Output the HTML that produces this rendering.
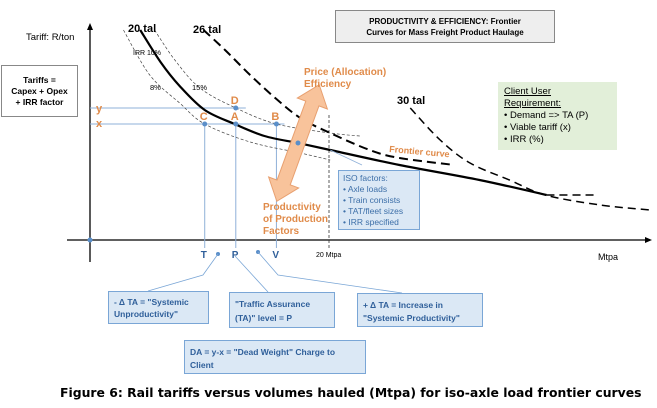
<!DOCTYPE html>
<html><head><meta charset="utf-8"><style>
body{margin:0;width:657px;height:408px;background:#fff;overflow:hidden;font-family:"Liberation Sans",sans-serif}
.box{position:absolute;box-sizing:border-box;font-size:9px;line-height:12px}
</style></head><body>
<svg id="c" width="657" height="408" style="position:absolute;left:0;top:0"></svg>
<div class="box" style="left:1px;top:65px;width:77px;height:52px;border:1px solid #888;font-weight:bold;text-align:center;padding-top:9px;font-size:8.5px;line-height:11px">Tariffs =<br>Capex + Opex<br>+ IRR factor</div>
<div class="box" style="left:335px;top:10px;width:220px;height:33px;border:1px solid #888;background:#eee;font-weight:bold;text-align:center;padding-top:5px;font-size:8px;line-height:11px">PRODUCTIVITY &amp; EFFICIENCY: Frontier<br>Curves for Mass Freight Product Haulage</div>
<div class="box" style="left:498px;top:82px;width:119px;height:68px;background:#e2efd9;padding:4px 6px;font-size:9.5px;line-height:12px"><u>Client User<br>Requirement:</u><br>• Demand =&gt; TA (P)<br>• Viable tariff (x)<br>• IRR (%)</div>
<div class="box" style="left:338px;top:170px;width:82px;height:60px;background:#dbe8f5;border:1px solid #7aa6d6;color:#3d6fa8;padding:2px 4px;font-size:8.5px;line-height:11px">ISO factors:<br>• Axle loads<br>• Train consists<br>• TAT/fleet sizes<br>• IRR specified</div>
<div class="box" style="left:108px;top:291px;width:101px;height:33px;background:#dbe8f5;border:1px solid #7aa6d6;color:#2f5f9a;font-weight:bold;padding:4px 5px;font-size:8.5px">- Δ TA = "Systemic<br>Unproductivity"</div>
<div class="box" style="left:229px;top:292px;width:106px;height:36px;background:#dbe8f5;border:1px solid #7aa6d6;color:#2f5f9a;font-weight:bold;padding:4px 5px;font-size:8.5px;line-height:14px">"Traffic Assurance<br>(TA)" level = P</div>
<div class="box" style="left:357px;top:293px;width:126px;height:34px;background:#dbe8f5;border:1px solid #7aa6d6;color:#2f5f9a;font-weight:bold;padding:5px 5px;font-size:8.5px;line-height:13px">+ Δ TA = Increase in<br>"Systemic Productivity"</div>
<div class="box" style="left:184px;top:340px;width:182px;height:34px;background:#dbe8f5;border:1px solid #7aa6d6;color:#2f5f9a;font-weight:bold;padding:5px 5px;font-size:8.5px;line-height:13px">DA = y-x = "Dead Weight" Charge to<br>Client</div>
<div class="box" style="left:60px;top:386px;font-weight:bold;white-space:nowrap;font-family:'DejaVu Sans',sans-serif;font-size:12.4px;line-height:14px">Figure 6: Rail tariffs versus volumes hauled (Mtpa) for iso-axle load frontier curves</div>
<script>
const tal20X=[4.2,5.9,7.5,9.6,12.1,14.6,17.4,20.1,25.9,32.6,38.2];
const tal20Y=[105,89,77,65,58,52,48.5,45,37.5,30,22.5];
const tal26X=[9.5,11.3,13.4,15.5,17.6,20.1,23.4,25.9,30.5];
const tal26Y=[105,95,82.5,71,61,53.5,45,41,37.5];
const tal30X=[26.8,29.3,31.8,35.1,38.1,42.7,46.9];
const tal30Y=[66,50,38.5,30,22.5,17.5,15];
const extX=[38.2,42.4];
const extY=[22.5,22.5];
const irr8X=[2.8,5.0,7.5,9.6,13.4,17.6,20.1];
const irr8Y=[105,82.5,68.5,58,49,43.5,40];
const irr15X=[5.4,7.1,9.2,12.2,15.6,20.1,22.6];
const irr15Y=[105,90,76,66,58,53.5,52];
const pointNames=['C','A','B','D'];
const pointX=[9.6,12.2,15.6,12.2];
const pointY=[58,58,58,66];
const xTickVal=20;
const NS='http://www.w3.org/2000/svg';
const svg=document.getElementById('c');
const sx=v=>90+v*11.95, sy=v=>240-v*2;
function el(t,a,p){const e=document.createElementNS(NS,t);for(const k in a)e.setAttribute(k,a[k]);(p||svg).appendChild(e);return e;}
function curve(xs,ys){const P=xs.map((x,i)=>[sx(x),sy(ys[i])]);let d='M'+P[0];for(let i=0;i<P.length-1;i++){const p0=P[i-1]||P[i],p1=P[i],p2=P[i+1],p3=P[i+2]||p2;d+=' C'+(p1[0]+(p2[0]-p0[0])/6)+','+(p1[1]+(p2[1]-p0[1])/6)+' '+(p2[0]-(p3[0]-p1[0])/6)+','+(p2[1]-(p3[1]-p1[1])/6)+' '+p2;}return d;}
function txt(x,y,s,st,name){const t=el('text',Object.assign({x:x,y:y,'font-family':'Liberation Sans, sans-serif'},st));t.textContent=s;return t;}
let ax=el('line',{x1:90,y1:262,x2:90,y2:28,stroke:'#000','stroke-width':1.3});

el('polygon',{points:'87,30 93,30 90,23',fill:'#000'});
ax=el('line',{x1:67,y1:240,x2:646,y2:240,stroke:'#000','stroke-width':1.3});

el('polygon',{points:'645,237 645,243 652,240',fill:'#000'});
el('circle',{cx:90,cy:240,r:2.5,fill:'#5b8fc9'});
txt(26,40,'Tariff: R/ton',{'font-size':9.5},'y-axis-title');
txt(598,260,'Mtpa',{'font-size':9},'x-axis-title');
let v=el('line',{x1:sx(xTickVal),y1:115,x2:sx(xTickVal),y2:248,stroke:'#333','stroke-width':0.8,'stroke-dasharray':'3,2'});

txt(sx(xTickVal)-13,257,xTickVal+' Mtpa',{'font-size':7},'x-tick-20');
const pA=[sx(pointX[1]),sy(pointY[1])],pD=[sx(pointX[3]),sy(pointY[3])];
el('line',{x1:90,y1:pD[1],x2:pD[0]+10,y2:pD[1],stroke:'#8fb0d8','stroke-width':1});
el('line',{x1:90,y1:pA[1],x2:sx(pointX[2])+8,y2:pA[1],stroke:'#8fb0d8','stroke-width':1});
[0,1,2].forEach(i=>{el('line',{x1:sx(pointX[i]),y1:sy(pointY[i]),x2:sx(pointX[i]),y2:248,stroke:'#8fb0d8','stroke-width':1});});
txt(96,112,'y',{'font-size':11,fill:'#e08b4a','font-weight':'bold'},'y-label');
txt(96,127,'x',{'font-size':11,fill:'#e08b4a','font-weight':'bold'},'x-label');
function draw(xs,ys,st,name){const p=el('path',Object.assign({d:curve(xs,ys),fill:'none'},st));}
draw(irr8X,irr8Y,{stroke:'#444','stroke-width':0.7,'stroke-dasharray':'3,2'},'irr-8-curve');
draw(irr15X,irr15Y,{stroke:'#444','stroke-width':0.7,'stroke-dasharray':'3,2'},'irr-15-curve');
draw(tal20X,tal20Y,{stroke:'#000','stroke-width':2.2},'tal-20-curve');
draw(tal26X,tal26Y,{stroke:'#000','stroke-width':2,'stroke-dasharray':'9,5'},'tal-26-curve');
draw(tal30X,tal30Y,{stroke:'#000','stroke-width':1.5,'stroke-dasharray':'8,5'},'tal-30-curve');
draw(extX,extY,{stroke:'#000','stroke-width':1.5,'stroke-dasharray':'8,5'},'tal-20-extension');
el('line',{x1:sx(20.1),y1:sy(45),x2:362,y2:165,stroke:'#8fb0d8','stroke-width':0.8});
txt(128,32,'20 tal',{'font-size':11,'font-weight':'bold'},'tal-20-label');
txt(193,33,'26 tal',{'font-size':11,'font-weight':'bold'},'tal-26-label');
txt(397,104,'30 tal',{'font-size':11,'font-weight':'bold'},'tal-30-label');
txt(133,55,'IRR 10%',{'font-size':7},'irr-10-label');
txt(150,90,'8%',{'font-size':7.5},'irr-8-label');
txt(192,90,'15%',{'font-size':7.5},'irr-15-label');
txt(389,152,'Frontier curve',{'font-size':9,fill:'#e08b4a','font-weight':'bold',transform:'rotate(5 389 152)'},'frontier-curve-label');
const g=el('g',{transform:'translate(298,143) rotate(20)'});

el('polygon',{points:'-7,-42 -16,-42 0,-62 16,-42 7,-42 7,42 16,42 0,62 -16,42 -7,42',fill:'#f8c39b',stroke:'#e8a070','stroke-width':1},g);
el('circle',{cx:298,cy:143,r:2.5,fill:'#5b8fc9'});
txt(304,75,'Price (Allocation)',{'font-size':10,fill:'#e08b4a','font-weight':'bold'},'price-efficiency-label');
txt(304,87,'Efficiency',{'font-size':10,fill:'#e08b4a','font-weight':'bold'},'price-efficiency-label-2');
txt(263,210,'Productivity',{'font-size':10,fill:'#e08b4a','font-weight':'bold'},'productivity-label');
txt(263,222,'of Production',{'font-size':10,fill:'#e08b4a','font-weight':'bold'},'productivity-label-2');
txt(263,234,'Factors',{'font-size':10,fill:'#e08b4a','font-weight':'bold'},'productivity-label-3');
pointNames.forEach((n,i)=>{const c=el('circle',{cx:sx(pointX[i]),cy:sy(pointY[i]),r:2.5,fill:'#5b8fc9'});txt(sx(pointX[i])-5,sy(pointY[i])-4,n,{'font-size':11,fill:'#e08b4a','font-weight':'bold'},'label-'+n);});
txt(sx(pointX[0])-4,258,'T',{'font-size':10,fill:'#2f5f9a','font-weight':'bold'},'t-label');
txt(sx(pointX[1])-4,258,'P',{'font-size':10,fill:'#2f5f9a','font-weight':'bold'},'p-label');
txt(sx(pointX[2])-4,258,'V',{'font-size':10,fill:'#2f5f9a','font-weight':'bold'},'v-label');
el('circle',{cx:218,cy:254,r:2,fill:'#5b8fc9'});el('circle',{cx:258,cy:252,r:2,fill:'#5b8fc9'});
el('polyline',{points:'218,254 203,275 148,291',fill:'none',stroke:'#7aa6d6','stroke-width':0.8});
el('polyline',{points:'235,256 268,292',fill:'none',stroke:'#7aa6d6','stroke-width':0.8});
el('polyline',{points:'258,252 278,275 402,293',fill:'none',stroke:'#7aa6d6','stroke-width':0.8});
</script>
</body></html>
